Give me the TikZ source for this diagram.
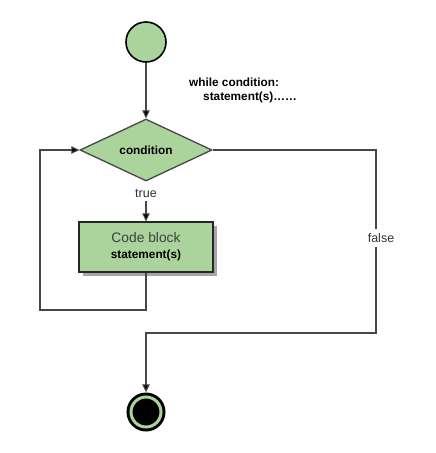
\documentclass[tikz,border=0pt]{standalone}
\usepackage{fontspec}
\setmainfont{Liberation Sans}
\usetikzlibrary{arrows.meta,shapes.geometric,shadows}
\definecolor{nodegreen}{HTML}{ABD49C}
\definecolor{linegray}{HTML}{474747}
\begin{document}
\begin{tikzpicture}[x=1pt,y=-1pt,
  flow/.style={draw=linegray, line width=1.1pt},
  arr/.style={flow, -{Triangle[length=8pt,width=7.5pt,fill=black]}},
  lbl/.style={font=\fontsize{12.5}{14}\selectfont, text=black!80, inner sep=3pt},
  boldtxt/.style={font=\bfseries\fontsize{11.8}{14}\selectfont, text=black, inner sep=0pt}]
\useasboundingbox[fill=white] (0,0) rectangle (436,453);
% nodes
\node[circle, draw=black, line width=1.6pt, fill=nodegreen, minimum size=40pt, inner sep=0pt] (start) at (146,42) {};
\node[diamond, draw=linegray, line width=1.3pt, fill=nodegreen, minimum width=132pt, minimum height=62pt, inner sep=0pt, boldtxt] (cond) at (146,150) {condition};
\node[lbl] (true) at (146,194) {true};
\node[rectangle, draw=black!85, line width=1.3pt, fill=nodegreen, minimum width=134pt, minimum height=50pt, inner sep=0pt,
  drop shadow={shadow xshift=4pt, shadow yshift=-4pt, fill=black!35, opacity=1}] (box) at (146,247) {};
\node[font=\fontsize{13.8}{15}\selectfont, text=black!75, inner sep=0pt] (codeblock) at (146,238) {Code block};
\node[boldtxt] (stmt) at (146,255.5) {statement(s)};
\node[circle, fill=black, minimum size=39pt, inner sep=0pt] (end) at (146,412) {};
\draw[nodegreen, line width=3pt] (end.center) circle (15pt);
\node[boldtxt, anchor=west] (while) at (189,82) {while condition:};
\node[boldtxt, anchor=west] (wstmt) at (203,97.5) {statement(s)……};
% connectors
\coordinate (lb) at (40,310);
\coordinate (fr) at (376,333);
\draw[arr] (start.south) -- (cond.north);
\draw[arr] (true.south) -- (box.north);
\draw[arr] (box.south) |- (lb) |- (cond.west);
\draw[arr] (cond.east) -| (fr) -| (end.north);
\node[lbl, fill=white, inner sep=4pt] (false) at (381,238) {false};
\end{tikzpicture}
\end{document}
